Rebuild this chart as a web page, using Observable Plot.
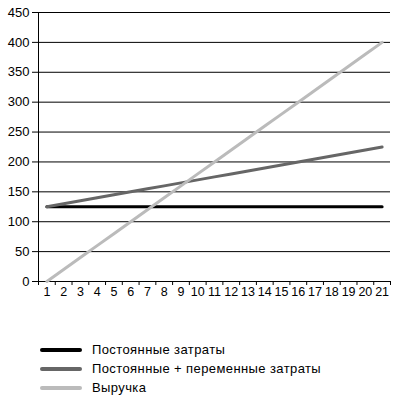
<!DOCTYPE html>
<html><head><meta charset="utf-8">
<script src="https://cdn.jsdelivr.net/npm/d3@7"></script>
<script src="https://cdn.jsdelivr.net/npm/@observablehq/plot@0.6"></script>
<style>
body{margin:0;background:#fff;font-family:"Liberation Sans",Arial,sans-serif;}
#legend{margin-top:40px}
.row{display:flex;align-items:center;height:19px;}
.sw{width:42px;height:4px;margin-left:40px;margin-right:10px;border-radius:2px}
.lab{font-size:13px;color:#000;letter-spacing:0.4px}
</style></head>
<body>
<div id="chart"></div>
<div id="legend"></div>
<script>
const periods = [1,2,3,4,5,6,7,8,9,10,11,12,13,14,15,16,17,18,19,20,21];
const fixedCosts = [125,125,125,125,125,125,125,125,125,125,125,125,125,125,125,125,125,125,125,125,125];
const totalCosts = [125,130,135,140,145,150,155,160,165,170,175,180,185,190,195,200,205,210,215,220,225];
const revenue = [0,20,40,60,80,100,120,140,160,180,200,220,240,260,280,300,320,340,360,380,400];
const yTicks = [0,50,100,150,200,250,300,350,400,450];
const seriesNames = ["Постоянные затраты","Постоянные + переменные затраты","Выручка"];
const seriesColors = ["#000000","#666666","#bbbbbb"];
const seriesValues = [fixedCosts,totalCosts,revenue];

const data = [];
seriesNames.forEach((s,i)=>periods.forEach((p,j)=>data.push({series:s,x:p,y:seriesValues[i][j]})));
const boundaries = periods.map(p=>p-0.5).concat([periods[periods.length-1]+0.5]);

const chart = Plot.plot({
  width:397, height:300,
  marginLeft:38, marginRight:7, marginTop:12, marginBottom:19,
  style:{fontFamily:'"Liberation Sans",Arial,sans-serif', fontSize:"13px", color:"#000", background:"#fff"},
  x:{type:"linear", domain:[boundaries[0], boundaries[boundaries.length-1]]},
  y:{domain:[0,450]},
  color:{domain:seriesNames, range:seriesColors},
  marks:[
    Plot.gridY(yTicks,{stroke:"#000", strokeOpacity:1, strokeWidth:1}),
    Plot.ruleX([boundaries[0]],{stroke:"#000", strokeWidth:1}),
    Plot.axisY({ticks:yTicks, tickSize:6, tickPadding:3, label:null, fontSize:13}),
    Plot.axisX({ticks:boundaries, tickSize:4, tickFormat:()=>"", label:null}),
    Plot.axisX({ticks:periods, tickSize:0, tickPadding:6, label:null, fontSize:12.5, tickFormat:d=>String(d)}),
    Plot.line(data,{x:"x", y:"y", z:"series", stroke:"series", strokeWidth:3})
  ]
});
document.getElementById("chart").appendChild(chart);

const leg = document.getElementById("legend");
seriesNames.forEach((s,i)=>{
  const r = document.createElement("div"); r.className="row";
  const sw = document.createElement("div"); sw.className="sw"; sw.style.background=seriesColors[i];
  const lb = document.createElement("span"); lb.className="lab"; lb.textContent=s;
  r.appendChild(sw); r.appendChild(lb); leg.appendChild(r);
});
</script>
</body></html>
